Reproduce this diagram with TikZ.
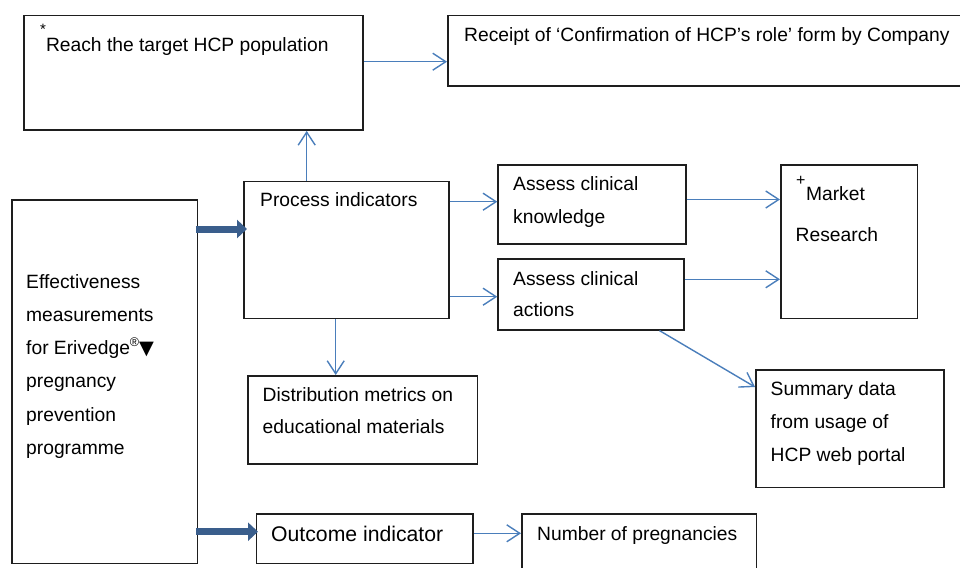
\documentclass[tikz,border=0pt]{standalone}
\usepackage{fontspec}
\setmainfont{Liberation Sans}
\newfontfamily\djv{DejaVu Sans}
\usetikzlibrary{arrows.meta}
\definecolor{lineblue}{HTML}{4A7EBB}
\definecolor{thickblue}{HTML}{3A5E8C}
\definecolor{boxline}{HTML}{1E1E1E}
\begin{document}
\begin{tikzpicture}[x=1pt,y=-1pt,font=\fontsize{19.25}{23}\selectfont,
  box/.style={draw=boxline,line width=1.6pt,inner sep=0pt,anchor=north west,rectangle},
  txt/.style={anchor=base west,inner sep=0pt,text=black},
  conn/.style={draw=lineblue,line width=1.4pt,-{Straight Barb[length=13pt,width=17pt]}},
  bigarrow/.style={draw=thickblue,line width=7pt,-{Triangle[length=10pt,width=18pt]}}]
\useasboundingbox (0,0) rectangle (960,567);
% boxes
\node[box,minimum width=339pt,minimum height=114.6pt] (reach) at (23.3,14.7) {};
\node[box,minimum width=520pt,minimum height=70.3pt] (receipt) at (447,14.7) {};
\node[box,minimum width=185.7pt,minimum height=363.4pt] (eff) at (11,199.3) {};
\node[box,minimum width=205pt,minimum height=137pt] (proc) at (243.3,180.7) {};
\node[box,minimum width=187.7pt,minimum height=79pt] (know) at (497.3,164.3) {};
\node[box,minimum width=186pt,minimum height=70.7pt] (act) at (497.3,258.3) {};
\node[box,minimum width=136.7pt,minimum height=153.4pt] (mr) at (780,164.3) {};
\node[box,minimum width=188.3pt,minimum height=117.4pt] (summ) at (755,369.3) {};
\node[box,minimum width=229.4pt,minimum height=88.3pt] (dist) at (247.3,375) {};
\node[box,minimum width=216.6pt,minimum height=49.4pt] (outc) at (255.7,513.3) {};
\node[box,minimum width=234.7pt,minimum height=70pt] (num) at (521,513.3) {};
% texts
\node[txt] (treach) at (40,51.7) {\raisebox{17.5pt}{\fontsize{15}{15}\selectfont *}Reach the target HCP population};
\node[txt] (treceipt) at (464,41.7) {Receipt of ‘Confirmation of HCP’s role’ form by Company};
\node[txt] (tproc) at (260,206.7) {Process indicators};
\node[txt] (teff) at (26,288.3) {\vtop{\baselineskip=33.2pt\hbox{Effectiveness}\hbox{measurements}\hbox{for Erivedge\raisebox{8.5pt}{\fontsize{12.5}{12.5}\selectfont ®}{\djv ▼}}\hbox{pregnancy}\hbox{prevention}\hbox{programme}}};
\node[txt] (tknow) at (513,190.7) {\vtop{\baselineskip=32.6pt\hbox{Assess clinical}\hbox{knowledge}}};
\node[txt] (tact) at (513,285) {\vtop{\baselineskip=31.7pt\hbox{Assess clinical}\hbox{actions}}};
\node[txt] (tmr) at (795.5,200.7) {\vtop{\baselineskip=41pt\hbox{\kern0.5pt\raisebox{14.8pt}{\fontsize{16}{16}\selectfont +}\kern0.5pt Market}\hbox{Research}}};
\node[txt] (tdist) at (262.5,401.7) {\vtop{\baselineskip=31.6pt\hbox{Distribution metrics on}\hbox{educational materials}}};
\node[txt] (toutc) at (271,541.7) {\fontsize{21.2}{21}\selectfont Outcome indicator};
\node[txt] (tsumm) at (770.5,395) {\vtop{\baselineskip=33.3pt\hbox{Summary data}\hbox{from usage of}\hbox{HCP web portal}}};
\node[txt] (tnum) at (537,540) {Number of pregnancies};
% connectors
\draw[conn] (reach.east |- 0,61.7) -- (receipt.west |- 0,61.7);
\draw[conn] (proc.north -| 306.7,0) -- (reach.south -| 306.7,0);
\draw[conn] (proc.east |- 0,201.7) -- (know.west |- 0,201.7);
\draw[conn] (proc.east |- 0,296.7) -- (act.west |- 0,296.7);
\draw[conn] (proc.south -| 335.7,0) -- (dist.north -| 335.7,0);
\draw[conn] (know.east |- 0,199.5) -- (mr.west |- 0,199.5);
\draw[conn] (act.east |- 0,279.3) -- (mr.west |- 0,279.3);
\draw[conn] (act.south -| 659.5,0) -- (summ.west |- 0,387);
\draw[conn] (outc.east |- 0,533.3) -- (num.west |- 0,533.3);
\draw[bigarrow] ([xshift=-2.5pt]eff.east |- 0,229) -- ([xshift=3.7pt]proc.west |- 0,229);
\draw[bigarrow] ([xshift=-2.5pt]eff.east |- 0,531.7) -- ([xshift=2.3pt]outc.west |- 0,531.7);
\end{tikzpicture}
\end{document}
